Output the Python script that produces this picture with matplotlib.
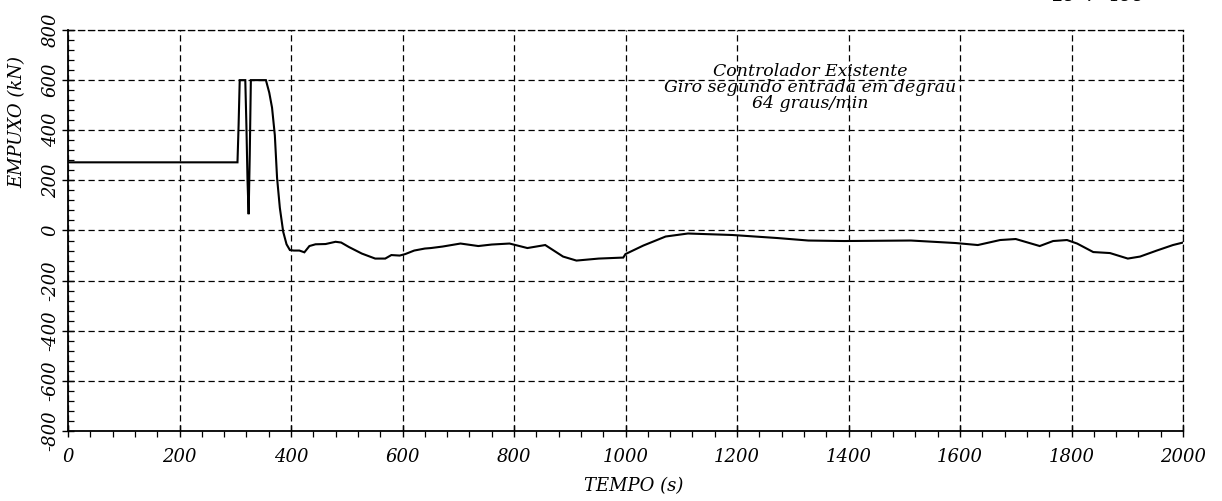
import matplotlib
matplotlib.use("Agg")
import matplotlib.pyplot as plt
from matplotlib.ticker import MultipleLocator

plt.rcParams["axes.unicode_minus"] = False

# Thrust response (kN) over time (s)
tempo = [0, 304, 306, 308, 318, 320, 322, 324, 326, 328, 355, 361, 366, 371,
         375, 380, 386, 392, 398, 405, 415, 424, 433, 444, 462, 480, 490, 504,
         527, 551, 569, 580, 595, 605, 621, 640, 651, 672, 704, 736, 760, 792,
         824, 856, 888, 912, 952, 996, 1000, 1032, 1072, 1112, 1192, 1272,
         1328, 1392, 1512, 1592, 1632, 1672, 1700, 1743, 1767, 1792, 1810,
         1839, 1869, 1901, 1923, 1953, 1982, 2000]
empuxo = [272, 272, 420, 600, 600, 420, 200, 65, 300, 600, 600, 550, 490, 380,
          210, 90, -5, -55, -78, -80, -80, -87, -62, -55, -54, -45, -48, -66,
          -92, -112, -112, -98, -100, -94, -80, -72, -70, -64, -52, -62, -56,
          -52, -70, -58, -104, -120, -112, -108, -94, -60, -24, -12, -18, -30,
          -40, -42, -40, -50, -58, -38, -34, -62, -42, -38, -52, -86, -90,
          -112, -104, -80, -58, -48]

x_ticks = [0, 200, 400, 600, 800, 1000, 1200, 1400, 1600, 1800, 2000]
y_ticks = [-800, -600, -400, -200, 0, 200, 400, 600, 800]
caption = ["Controlador Existente",
           "Giro segundo entrada em degrau",
           "64 graus/min"]

W, H = 1222, 501
fig = plt.figure(figsize=(W / 100, H / 100), dpi=100)
ax = fig.add_axes([68 / W, 1 - 431 / H, 1115 / W, 401 / H])

font = dict(family="DejaVu Serif", style="italic")
dash = (0, (5, 3))

ax.plot(tempo, empuxo, color="black", lw=1.5, solid_joinstyle="miter")

ax.set_xlim(0, 2000)
ax.set_ylim(-800, 800)
ax.set_xticks(x_ticks)
ax.set_yticks(y_ticks)
ax.set_xticklabels([str(v) for v in x_ticks], fontsize=13, **font)
ax.set_yticklabels([str(v) for v in y_ticks], fontsize=13, rotation=90,
                   va="center", **font)
ax.xaxis.set_minor_locator(MultipleLocator(40))
ax.yaxis.set_minor_locator(MultipleLocator(40))
ax.tick_params(axis="both", which="major", direction="inout", length=9,
               width=1.0, color="black")
ax.tick_params(axis="x", which="major", pad=8)
ax.tick_params(axis="y", which="major", pad=1.5)
ax.tick_params(axis="x", which="minor", direction="out", length=4, width=0.9)
ax.tick_params(axis="y", which="minor", direction="in", length=4, width=0.9)

ax.grid(True, which="major", color="black", linestyle=dash, lw=0.9)
for side in ("top", "right"):
    ax.spines[side].set_linestyle(dash)
    ax.spines[side].set_linewidth(0.9)
for side in ("left", "bottom"):
    ax.spines[side].set_linewidth(1.3)

ax.set_xlabel("TEMPO (s)", fontsize=13, **font)
ax.set_ylabel("EMPUXO (kN)", fontsize=13, **font)
ax.xaxis.set_label_coords(0.507, -0.115)
ax.yaxis.set_label_coords(-0.037, 0.77)

for i, line in enumerate(caption):
    ax.text(0.666, 0.897 - i * 0.04, line, transform=ax.transAxes,
            ha="center", va="center", fontsize=12.5, **font)

fig.text(1098 / W, 1.0 + 4 / H, "28  .   198", ha="center", va="center",
         fontsize=13, **font)

fig.savefig("out.png", dpi=100)
